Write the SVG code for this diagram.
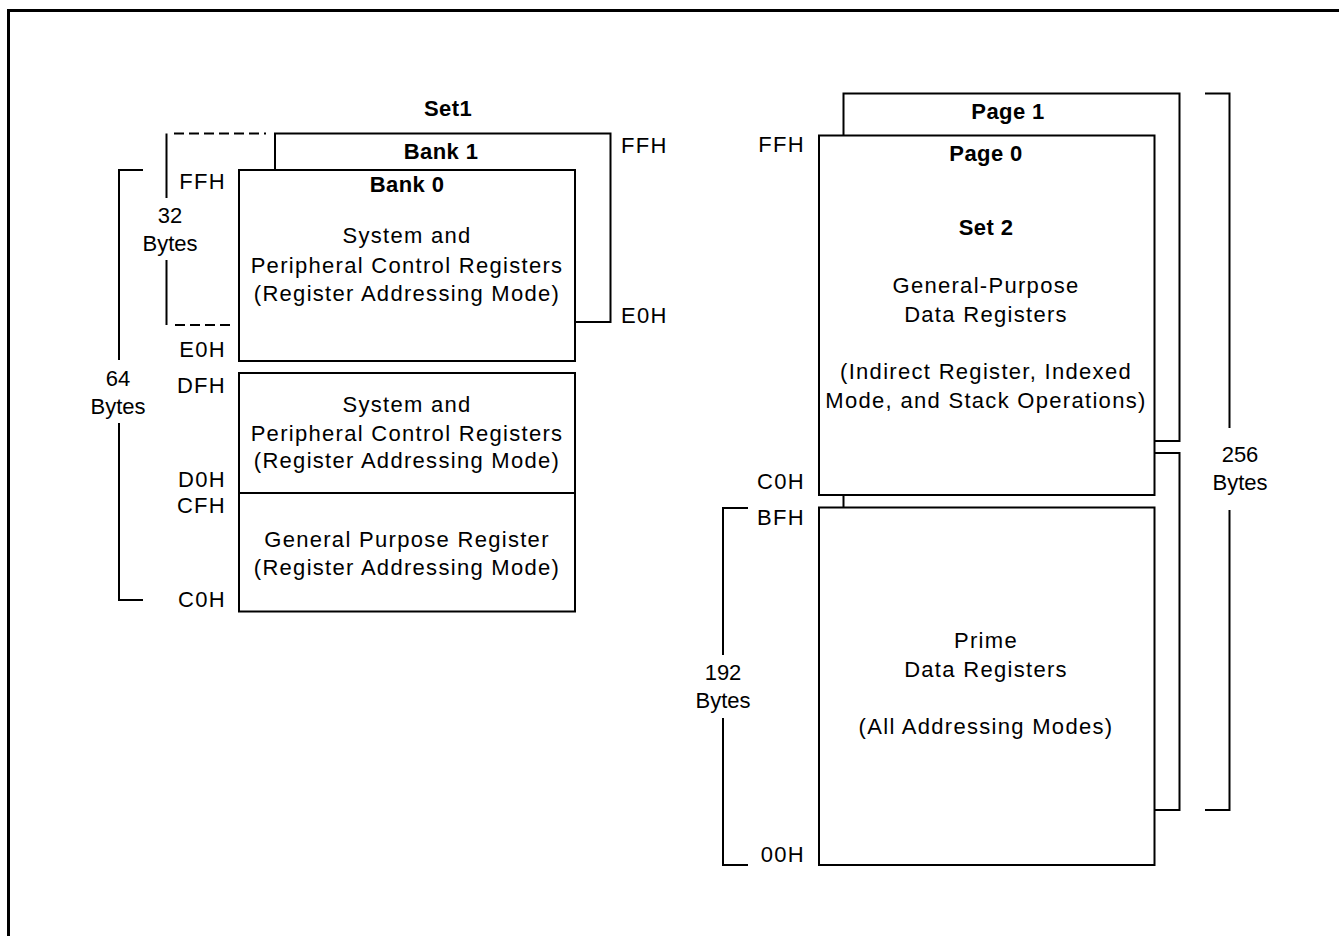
<svg xmlns="http://www.w3.org/2000/svg" width="1339" height="936" viewBox="0 0 1339 936">
<style>
.ln{fill:none;stroke:#000;stroke-width:2}
.bx{fill:#fff;stroke:#000;stroke-width:2}
.ds{fill:none;stroke:#000;stroke-width:2;stroke-dasharray:10 5}
.t{font-family:"Liberation Sans",Arial,sans-serif;font-size:22px;fill:#000;letter-spacing:1.3px}
.n{font-family:"Liberation Sans",Arial,sans-serif;font-size:22px;fill:#000}
.b{font-family:"Liberation Sans",Arial,sans-serif;font-size:22px;font-weight:bold;fill:#000;letter-spacing:0.4px}
.c{text-anchor:middle}
.e{text-anchor:end}
</style>
<rect width="1339" height="936" fill="#fff"/>
<path d="M8.5 936 V10.5 H1339" fill="none" stroke="#000" stroke-width="3"/>

<g id="connectors">
  <path class="ln" d="M143 170 H119 V360 M119 423 V600 H143"/>
  <path class="ln" d="M166.5 133.5 V198 M166.5 260 V325"/>
  <path class="ds" d="M174 133.5 H266"/>
  <path class="ds" d="M175 325 H233"/>
  <path class="ln" d="M748 508 H723 V655 M723 718 V865 H748"/>
  <path class="ln" d="M1205 93.5 H1229.5 V428 M1229.5 510 V810 H1205"/>
  <path class="ln" d="M843.5 495 V508"/>
</g>

<g id="set1-title"><text class="b c" x="448" y="116">Set1</text></g>

<g id="bank1">
  <path class="ln" d="M275 170 V133.5 H610.5 V322 H575"/>
  <text class="b c" x="441" y="159">Bank 1</text>
  <text class="t" x="621" y="153">FFH</text>
  <text class="t" x="621" y="323">E0H</text>
</g>

<g id="bank0">
  <rect class="bx" x="239" y="170" width="336" height="191"/>
  <text class="b c" x="407" y="192">Bank 0</text>
  <text class="t c" x="407" y="243">System and</text>
  <text class="t c" x="407" y="273">Peripheral Control Registers</text>
  <text class="t c" x="407" y="301">(Register Addressing Mode)</text>
</g>

<g id="sys-periph">
  <rect class="bx" x="239" y="373" width="336" height="120"/>
  <text class="t c" x="407" y="412">System and</text>
  <text class="t c" x="407" y="441">Peripheral Control Registers</text>
  <text class="t c" x="407" y="468">(Register Addressing Mode)</text>
</g>

<g id="gp-register">
  <rect class="bx" x="239" y="493" width="336" height="118.5"/>
  <text class="t c" x="407" y="547">General Purpose Register</text>
  <text class="t c" x="407" y="575">(Register Addressing Mode)</text>
</g>

<g id="left-labels">
  <text class="t e" x="226" y="189">FFH</text>
  <text class="t e" x="226" y="357">E0H</text>
  <text class="t e" x="226" y="393">DFH</text>
  <text class="t e" x="226" y="487">D0H</text>
  <text class="t e" x="226" y="513">CFH</text>
  <text class="t e" x="226" y="607">C0H</text>
  <text class="n c" x="170" y="223">32</text>
  <text class="n c" x="170" y="251">Bytes</text>
  <text class="n c" x="118" y="386">64</text>
  <text class="n c" x="118" y="414">Bytes</text>
</g>

<g id="page1">
  <path class="ln" d="M843.5 135 V93.5 H1179.5 V441 H1155 M1155 453 H1179.5 V810 H1155"/>
  <text class="b c" x="1008" y="119">Page 1</text>
</g>

<g id="page0">
  <rect class="bx" x="819" y="135.5" width="335.5" height="359.5"/>
  <text class="b c" x="986" y="161">Page 0</text>
  <text class="b c" x="986" y="235">Set 2</text>
  <text class="t c" x="986" y="293">General-Purpose</text>
  <text class="t c" x="986" y="322">Data Registers</text>
  <text class="t c" x="986" y="379">(Indirect Register, Indexed</text>
  <text class="t c" x="986" y="408">Mode, and Stack Operations)</text>
</g>

<g id="prime">
  <rect class="bx" x="819" y="507.5" width="335.5" height="357.5"/>
  <text class="t c" x="986" y="648">Prime</text>
  <text class="t c" x="986" y="677">Data Registers</text>
  <text class="t c" x="986" y="734">(All Addressing Modes)</text>
</g>

<g id="right-labels">
  <text class="t e" x="805" y="152">FFH</text>
  <text class="t e" x="805" y="489">C0H</text>
  <text class="t e" x="805" y="525">BFH</text>
  <text class="t e" x="805" y="862">00H</text>
  <text class="n c" x="723" y="680">192</text>
  <text class="n c" x="723" y="708">Bytes</text>
  <text class="n c" x="1240" y="462">256</text>
  <text class="n c" x="1240" y="490">Bytes</text>
</g>
</svg>
